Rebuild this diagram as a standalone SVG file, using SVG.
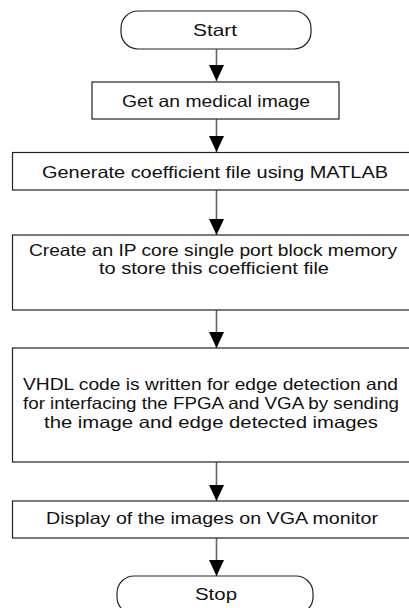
<svg xmlns="http://www.w3.org/2000/svg" width="409" height="608" viewBox="0 0 409 608">
<style>
.box{fill:#fff;stroke:#222;stroke-width:1.2}
.term{fill:#fff;stroke:#222;stroke-width:1.2}
.lbl{font-family:"Liberation Sans",Arial,sans-serif;font-size:16.5px;fill:#111;text-anchor:middle}
.conn line{stroke:#666;stroke-width:1.6}
</style>
<defs>
<marker id="ah" markerUnits="userSpaceOnUse" markerWidth="16" markerHeight="15" refX="16" refY="7.5" orient="auto">
<path d="M0,0 L16,7.5 L0,15 Z" fill="#000"/>
</marker>
</defs>
<rect width="409" height="608" fill="#fff"/>
<g id="connectors" class="conn">
<line x1="216.5" y1="49" x2="216.5" y2="81" marker-end="url(#ah)"/>
<line x1="216.5" y1="119" x2="216.5" y2="152" marker-end="url(#ah)"/>
<line x1="216.5" y1="190" x2="216.5" y2="235" marker-end="url(#ah)"/>
<line x1="216.5" y1="310" x2="216.5" y2="348" marker-end="url(#ah)"/>
<line x1="216.5" y1="462" x2="216.5" y2="501" marker-end="url(#ah)"/>
<line x1="216.5" y1="538" x2="216.5" y2="576" marker-end="url(#ah)"/>
</g>
<g id="start">
<rect class="term" x="121" y="11" width="190" height="38" rx="17" ry="17"/>
<text class="lbl" x="215" y="36" textLength="44" lengthAdjust="spacingAndGlyphs">Start</text>
</g>
<g id="get-image">
<rect class="box" x="92" y="82" width="247" height="37"/>
<text class="lbl" x="216" y="106.5" textLength="188" lengthAdjust="spacingAndGlyphs">Get an medical image</text>
</g>
<g id="generate">
<rect class="box" x="12.5" y="152.5" width="408" height="37.5"/>
<text class="lbl" x="215" y="177.5" textLength="346" lengthAdjust="spacingAndGlyphs">Generate coefficient file using  MATLAB</text>
</g>
<g id="create-ip">
<rect class="box" x="12.5" y="235" width="408" height="75"/>
<text class="lbl" x="213" y="255.5" textLength="368" lengthAdjust="spacingAndGlyphs">Create an IP core single port block memory</text>
<text class="lbl" x="214" y="274" textLength="230" lengthAdjust="spacingAndGlyphs">to store this coefficient file</text>
</g>
<g id="vhdl">
<rect class="box" x="12.5" y="348" width="408" height="114"/>
<text class="lbl" x="210.5" y="389.5" textLength="375" lengthAdjust="spacingAndGlyphs">VHDL code is written for edge detection and</text>
<text class="lbl" x="211" y="408.5" textLength="376" lengthAdjust="spacingAndGlyphs">for interfacing the FPGA and VGA by sending</text>
<text class="lbl" x="211" y="427.5" textLength="334" lengthAdjust="spacingAndGlyphs">the image  and edge detected images</text>
</g>
<g id="display">
<rect class="box" x="12.5" y="501" width="408" height="37"/>
<text class="lbl" x="212" y="524" textLength="332" lengthAdjust="spacingAndGlyphs">Display of the images on VGA monitor</text>
</g>
<g id="stop">
<rect class="term" x="117" y="576" width="196" height="38" rx="17" ry="17"/>
<text class="lbl" x="216" y="600" textLength="42" lengthAdjust="spacingAndGlyphs">Stop</text>
</g>
</svg>
